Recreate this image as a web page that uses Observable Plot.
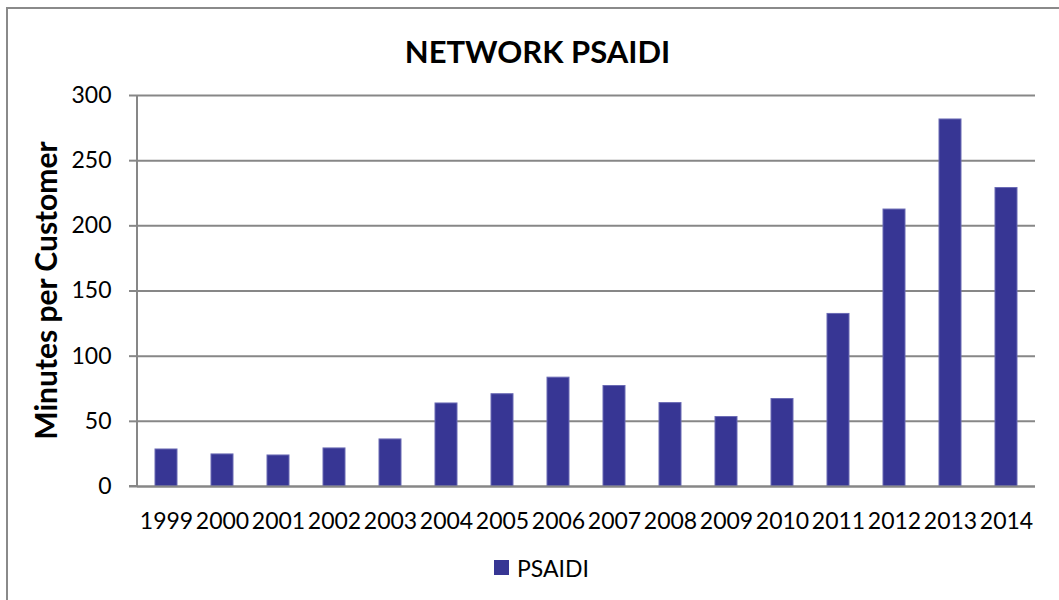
<!DOCTYPE html>
<html>
<head>
<meta charset="utf-8">
<script src="https://cdn.jsdelivr.net/npm/d3@7"></script>
<script src="https://cdn.jsdelivr.net/npm/@observablehq/plot@0.6"></script>
<style>
  html, body { margin: 0; padding: 0; background: #fff; }
  body { width: 1059px; height: 600px; overflow: hidden; position: relative; font-family: Lato, "Open Sans", sans-serif; }
  #frame {
    position: absolute; left: 6px; top: 7px; width: 1100px; height: 700px;
    border-left: 2px solid #8a8a8a; border-top: 2px solid #8a8a8a; box-sizing: border-box;
  }
  #title {
    position: relative; height: 80px; line-height: 1; text-align: center;
    font-weight: 700; font-size: 31px; color: #000; padding-left: 16px;
    box-sizing: border-box; padding-top: 36px;
  }
  #chart { position: relative; height: 470px; }
  #legend {
    position: relative; height: 50px; display: flex; justify-content: center; align-items: flex-start;
    padding-left: 24px; box-sizing: border-box; padding-top: 4px;
    font-size: 23px; color: #000;
  }
  #legend .swatch { width: 15px; height: 15px; background: #373694; margin-right: 8px; margin-top: 6px; }
</style>
</head>
<body>
<div id="frame"></div>
<div id="title">NETWORK PSAIDI</div>
<div id="chart"></div>
<div id="legend"><span class="swatch"></span><span>PSAIDI</span></div>
<script>
// Network PSAIDI, minutes per customer, by year
const years = ["1999","2000","2001","2002","2003","2004","2005","2006","2007","2008","2009","2010","2011","2012","2013","2014"];
const psaidi = [28.4, 24.6, 23.8, 29.2, 36.1, 63.7, 70.8, 83.5, 77.1, 64.0, 53.3, 67.1, 132.4, 212.5, 281.6, 229.0];
const yTicks = [0, 50, 100, 150, 200, 250, 300];
const yLabel = "Minutes per Customer";

const data = years.map((year, i) => ({year, value: psaidi[i]}));

const grey = "#878787";
const barFill = "#373694";

const chart = Plot.plot({
  width: 1059,
  height: 470,
  marginLeft: 137,
  marginRight: 24,
  marginTop: 15,
  marginBottom: 64,
  style: {fontFamily: "Lato, 'Open Sans', sans-serif", fontSize: "23px", color: "#000", background: "transparent"},
  x: {domain: years, paddingInner: 0.6, paddingOuter: 0.3, label: null},
  y: {domain: [0, 300], label: null},
  marks: [
    // horizontal gridlines
    Plot.gridY(yTicks, {stroke: grey, strokeOpacity: 1, strokeWidth: 2}),
    Plot.axisY({ticks: yTicks, tickSize: 8, tickPadding: 18, stroke: grey, strokeWidth: 2, label: null, fontSize: 23}),
    Plot.axisX({tickSize: 0, tickPadding: 26, label: null, fontSize: 23}),
    Plot.barY(data, {x: "year", y: "value", fill: barFill, stroke: "#6a6ab4", strokeWidth: 1}),
    // category baseline
    Plot.ruleY([0], {stroke: grey, strokeWidth: 2})
  ]
});
document.getElementById("chart").appendChild(chart);

// extend the baseline left to the tick stubs, draw the value axis line
const svg = d3.select(chart);
const yScale = chart.scale("y");
const y0 = yScale.apply(0), y300 = yScale.apply(300);
svg.append("line").attr("x1", 129).attr("x2", 137).attr("y1", y0).attr("y2", y0)
  .attr("stroke", grey).attr("stroke-width", 2);
svg.append("line").attr("x1", 137).attr("x2", 137).attr("y1", y300).attr("y2", y0)
  .attr("stroke", grey).attr("stroke-width", 2);

// rotated value-axis title
svg.append("text")
  .attr("transform", `translate(57, ${(y0 + y300) / 2}) rotate(-90)`)
  .attr("text-anchor", "middle")
  .attr("font-family", "Lato, 'Open Sans', sans-serif")
  .attr("font-weight", 700)
  .attr("font-size", 30)
  .attr("fill", "#000")
  .text(yLabel);
</script>
</body>
</html>
